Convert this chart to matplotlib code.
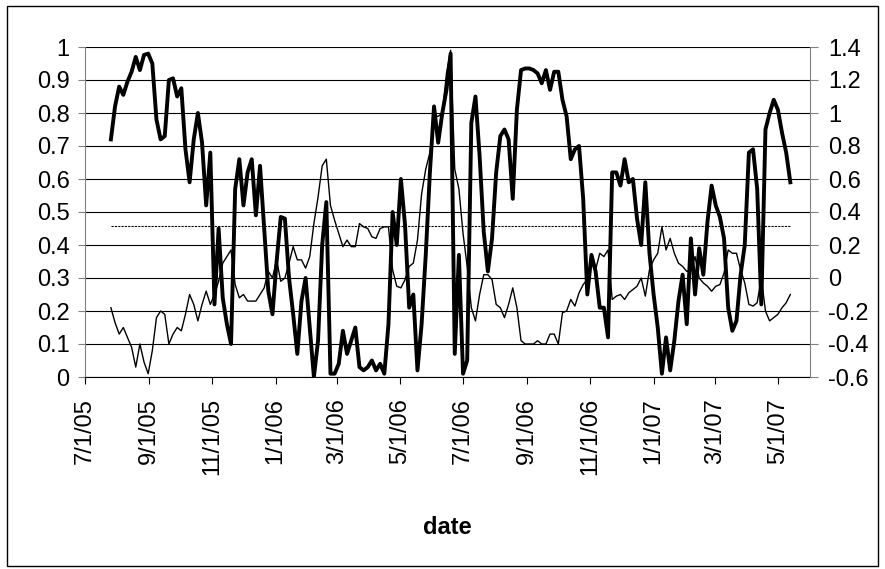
import numpy as np
import pandas as pd
import matplotlib
matplotlib.use('Agg')
import matplotlib.pyplot as plt
import matplotlib.dates as mdates
from matplotlib.ticker import FuncFormatter
from matplotlib.patches import Rectangle

plt.rcParams['font.family'] = ['Liberation Sans', 'DejaVu Sans']

dates = pd.date_range('2005-07-26', periods=165, freq='4D')

# thick series, left axis (0..1)
thick = [
    0.72, 0.82, 0.88, 0.855, 0.895, 0.925, 0.97, 0.93, 0.976, 0.98,
    0.95, 0.78, 0.72, 0.73, 0.90, 0.905, 0.85, 0.875, 0.69, 0.59,
    0.72, 0.80, 0.71, 0.52, 0.68, 0.22, 0.45, 0.24, 0.16, 0.10,
    0.57, 0.66, 0.52, 0.62, 0.66, 0.49, 0.64, 0.45, 0.26, 0.19,
    0.35, 0.485, 0.48, 0.30, 0.19, 0.07, 0.23, 0.30, 0.15, 0.00,
    0.11, 0.40, 0.53, 0.01, 0.01, 0.04, 0.14, 0.07, 0.11, 0.15,
    0.03, 0.02, 0.03, 0.05, 0.02, 0.04, 0.01, 0.16, 0.50, 0.40,
    0.60, 0.46, 0.21, 0.25, 0.02, 0.16, 0.37, 0.62, 0.82, 0.71,
    0.80, 0.87, 0.98, 0.07, 0.37, 0.01, 0.05, 0.77, 0.85, 0.67,
    0.44, 0.32, 0.42, 0.62, 0.73, 0.75, 0.72, 0.54, 0.81, 0.93,
    0.935, 0.935, 0.93, 0.92, 0.89, 0.93, 0.87, 0.925, 0.925, 0.84,
    0.79, 0.66, 0.69, 0.70, 0.54, 0.25, 0.37, 0.32, 0.21, 0.21,
    0.12, 0.62, 0.62, 0.58, 0.66, 0.59, 0.60, 0.48, 0.40, 0.59,
    0.375, 0.25, 0.15, 0.01, 0.12, 0.02, 0.11, 0.23, 0.31, 0.16,
    0.42, 0.25, 0.39, 0.31, 0.47, 0.58, 0.52, 0.485, 0.42, 0.21,
    0.14, 0.17, 0.31, 0.40, 0.68, 0.69, 0.57, 0.22, 0.75, 0.80,
    0.84, 0.81, 0.74, 0.68, 0.59,
]

# thin series, right axis (-0.6..1.4)
thin = [
    -0.18, -0.27, -0.34, -0.30, -0.36, -0.42, -0.54, -0.40, -0.51, -0.58,
    -0.44, -0.24, -0.20, -0.22, -0.40, -0.34, -0.30, -0.32, -0.22, -0.10,
    -0.16, -0.26, -0.16, -0.08, -0.16, -0.10, -0.02, 0.09, 0.13, 0.17,
    -0.04, -0.12, -0.10, -0.14, -0.14, -0.14, -0.10, -0.06, 0.04, 0.00,
    0.11, -0.02, 0.00, 0.09, 0.19, 0.11, 0.11, 0.06, 0.13, 0.33,
    0.49, 0.68, 0.72, 0.44, 0.35, 0.27, 0.19, 0.23, 0.19, 0.19,
    0.33, 0.31, 0.30, 0.25, 0.24, 0.30, 0.31, 0.31, 0.05, -0.05,
    -0.06, -0.01, 0.07, 0.09, 0.23, 0.51, 0.66, 0.76, 0.98, 0.98,
    1.00, 1.24, 1.38, 0.66, 0.54, 0.27, 0.07, -0.18, -0.26, -0.10,
    0.02, 0.02, -0.01, -0.16, -0.18, -0.24, -0.16, -0.06, -0.18, -0.38,
    -0.40, -0.40, -0.40, -0.38, -0.40, -0.40, -0.34, -0.34, -0.40, -0.21,
    -0.20, -0.13, -0.17, -0.09, -0.04, -0.01, 0.09, 0.05, 0.15, 0.13,
    0.17, -0.13, -0.11, -0.10, -0.13, -0.09, -0.07, -0.05, 0.00, -0.11,
    0.05, 0.11, 0.15, 0.31, 0.17, 0.24, 0.15, 0.09, 0.07, 0.04,
    0.05, 0.13, 0.00, -0.03, -0.05, -0.08, -0.05, -0.04, 0.03, 0.17,
    0.15, 0.15, 0.05, -0.03, -0.16, -0.17, -0.15, 0.00, -0.20, -0.26,
    -0.24, -0.22, -0.18, -0.15, -0.10,
]

ref_level = 0.315  # dashed level on the right axis

fig = plt.figure(figsize=(8.85, 5.69), dpi=100)
ax = fig.add_axes([85 / 885, 1 - 377 / 569, 725 / 885, 330 / 569])
ax2 = ax.twinx()

ax.plot(dates, thick, color='black', lw=2.8, solid_joinstyle='round', zorder=3)
ax2.plot(dates, thin, color='black', lw=1.0, zorder=3)
ax2.plot([dates[0], dates[-1]], [ref_level, ref_level], color='black',
         lw=0.8, ls=(0, (2, 1)), zorder=2)

ax.set_xlim(pd.Timestamp('2005-07-01'), pd.Timestamp('2007-06-01'))
ax.set_ylim(0, 1)
ax2.set_ylim(-0.6, 1.4)

ax.set_yticks(np.linspace(0, 1, 11))
ax2.set_yticks(np.linspace(-0.6, 1.4, 11))
fmt = FuncFormatter(lambda v, p: f"{round(v, 1):g}".replace('-0', '-0') if abs(v) > 1e-9 else '0')
ax.yaxis.set_major_formatter(fmt)
ax2.yaxis.set_major_formatter(fmt)

ax.xaxis.set_major_locator(mdates.MonthLocator(bymonth=[1, 3, 5, 7, 9, 11]))
ax.xaxis.set_major_formatter(FuncFormatter(
    lambda v, p: (lambda d: f"{d.month}/{d.day}/{d:%y}")(mdates.num2date(v))))

ax.grid(axis='y', color='black', lw=0.8)
ax.set_axisbelow(True)

ax.tick_params(axis='y', labelsize=17, length=5, width=0.8, pad=6, color='#808080')
ax2.tick_params(axis='y', labelsize=17, length=6, width=0.8, pad=7, color='#808080')
ax.tick_params(axis='x', labelsize=17, length=5, width=0.8, pad=10, rotation=90)

for s in ['top', 'right']:
    ax.spines[s].set_visible(False)
for s in ['top', 'left', 'bottom']:
    ax2.spines[s].set_visible(False)
ax.spines['left'].set_color('#808080')
ax2.spines['right'].set_color('#808080')
ax.spines['bottom'].set_color('black')

ax.set_xlabel('date', fontsize=17, fontweight='bold')
ax.xaxis.set_label_coords(0.5, -0.457)
ax.xaxis.label.set_va('center')

fig.patches.append(Rectangle((7 / 885, 3 / 569), 871 / 885, 560 / 569,
                             transform=fig.transFigure, fill=False,
                             edgecolor='black', lw=1))

fig.savefig('out.png', dpi=100)
